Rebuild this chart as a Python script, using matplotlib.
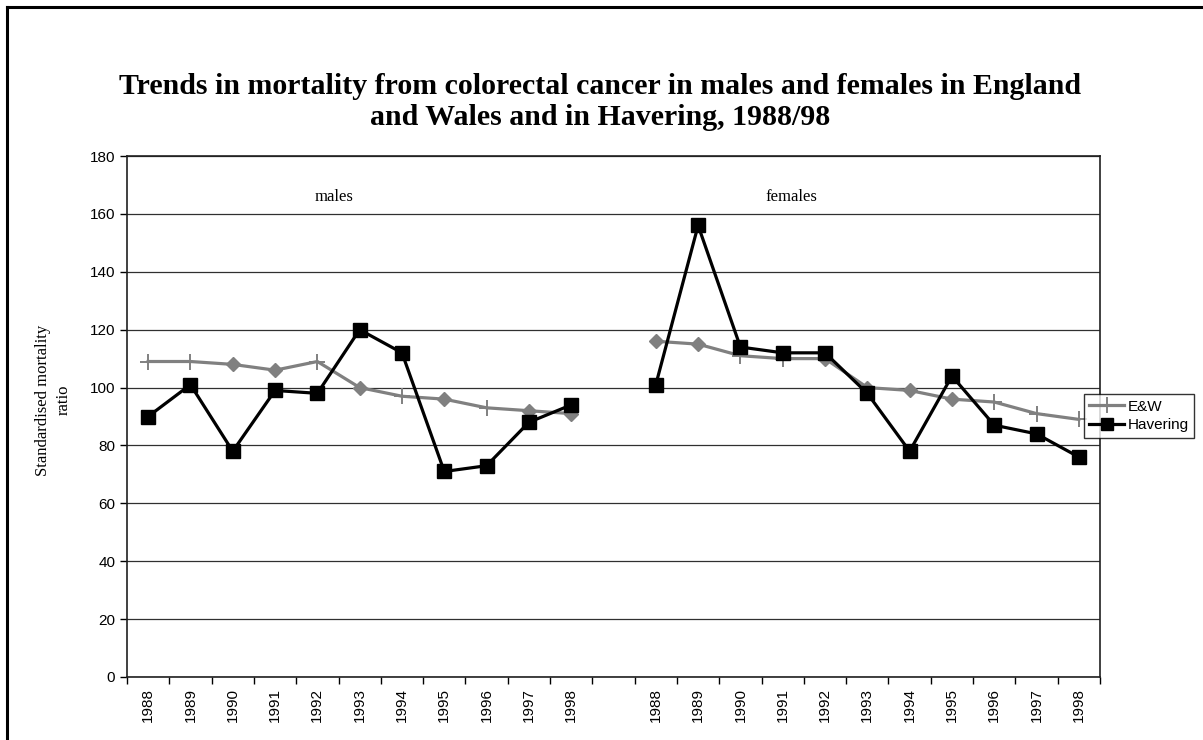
import matplotlib
matplotlib.use("Agg")
import matplotlib.pyplot as plt
from matplotlib.lines import Line2D
import numpy as np

# data
years = ["1988", "1989", "1990", "1991", "1992", "1993", "1994", "1995", "1996", "1997", "1998"]
ew_males = [109, 109, 108, 106, 109, 100, 97, 96, 93, 92, 91]
ew_females = [116, 115, 111, 110, 110, 100, 99, 96, 95, 91, 89]
hav_males = [90, 101, 78, 99, 98, 120, 112, 71, 73, 88, 94]
hav_females = [101, 156, 114, 112, 112, 98, 78, 104, 87, 84, 76]

# E&W points drawn with a diamond instead of a plus (as in the original)
ew_males_diamond = [2, 3, 5, 7, 9, 10]
ew_females_diamond = [0, 1, 4, 5, 6, 7]

gray = "#808080"
serif = "Liberation Serif"
sans = "Liberation Sans"

fig = plt.figure(figsize=(12.03, 7.40), dpi=100)
ax = fig.add_axes([127 / 1203, 1 - 677 / 740, (1100 - 127) / 1203, (677 - 156) / 740])

n = len(years)
x_m = np.arange(n)
x_f = np.arange(n) + n + 1

for xs, ew, dia in [(x_m, ew_males, ew_males_diamond), (x_f, ew_females, ew_females_diamond)]:
    plus_idx = [i for i in range(n) if i not in dia]
    ax.plot(xs, ew, color=gray, lw=2.3, marker="+", markersize=11, mew=1.4,
            markevery=plus_idx, zorder=3)
    ax.plot(xs, ew, ls="none", color=gray, marker="D", markersize=7.5,
            markevery=dia, zorder=3)

for xs, hv in [(x_m, hav_males), (x_f, hav_females)]:
    ax.plot(xs, hv, color="black", lw=2.3, marker="s", markersize=10, zorder=4)

ax.set_ylim(0, 180)
ax.set_xlim(-0.5, 2 * n + 0.5)
ax.set_yticks(range(0, 181, 20))
ax.yaxis.grid(True, color="#303030", lw=0.9)
ax.set_axisbelow(True)

ax.set_xticks(np.arange(-0.5, 2 * n + 1, 1))
ax.set_xticklabels([])
ax.set_xticks(list(x_m) + list(x_f), minor=True)
ax.set_xticklabels(years + years, minor=True, rotation=90, fontsize=11, family=sans)
ax.tick_params(axis="x", which="minor", length=0, pad=8)
ax.tick_params(axis="x", which="major", length=5, width=1)
ax.tick_params(axis="y", length=5, width=1, labelsize=11)
for lab in ax.get_yticklabels():
    lab.set_family(sans)

for s in ax.spines.values():
    s.set_linewidth(1.2)
    s.set_color("#202020")

ax.text(4.4, 166, "males", ha="center", va="center", fontsize=12, family=serif)
ax.text(15.2, 166, "females", ha="center", va="center", fontsize=12, family=serif)

fig.text(600 / 1203, 1 - 102 / 740,
         "Trends in mortality from colorectal cancer in males and females in England\n"
         "and Wales and in Havering, 1988/98",
         ha="center", va="center", fontsize=21.5, fontweight="bold", family=serif,
         linespacing=1.22)

fig.text(53 / 1203, 1 - 400 / 740, "Standardised mortality\nratio", rotation=90,
         ha="center", va="center", fontsize=12, family=serif, linespacing=1.4)

handles = [Line2D([], [], color=gray, lw=2.3, marker="+", markersize=11, mew=1.4),
           Line2D([], [], color="black", lw=2.3, marker="s", markersize=8)]
leg = fig.legend(handles, ["E&W", "Havering"], loc="center",
                 bbox_to_anchor=(1139 / 1203, 1 - 416 / 740),
                 prop={"family": sans, "size": 11}, frameon=True, fancybox=False,
                 handlelength=2.3, handletextpad=0.2, borderpad=0.35,
                 labelspacing=0.3, borderaxespad=0)
leg.get_frame().set_edgecolor("black")
leg.get_frame().set_linewidth(1)

# outer chart frame
fig.add_artist(Line2D([7 / 1203, 7 / 1203], [0, 1 - 7 / 740], color="black", lw=2.2,
                      transform=fig.transFigure))
fig.add_artist(Line2D([7 / 1203, 1], [1 - 7 / 740, 1 - 7 / 740], color="black", lw=2.2,
                      transform=fig.transFigure))

fig.savefig("out.png", dpi=100)
